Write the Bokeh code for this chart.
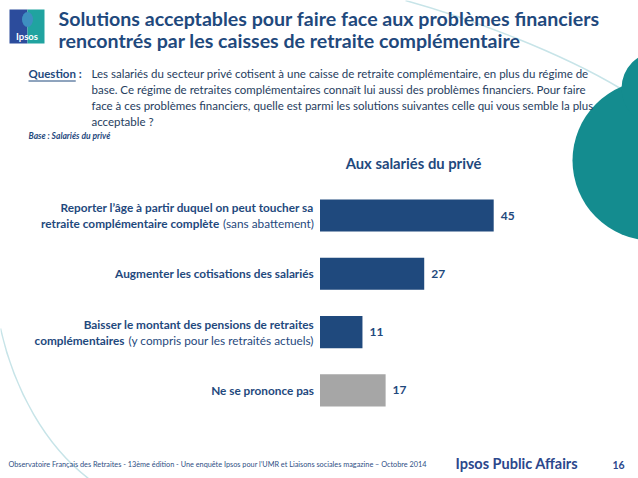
import glob, os, struct
from bokeh.plotting import figure
from bokeh.models import Range1d, ColumnDataSource
from bokeh.core.properties import value
from bokeh.embed import file_html
from bokeh.resources import INLINE

# ---------------- data ----------------
title_lines = ["Solutions acceptables pour faire face aux problèmes financiers",
               "rencontrés par les caisses de retraite complémentaire"]
question_lines = [
    "Les salariés du secteur privé cotisent à une caisse de retraite complémentaire, en plus du régime de",
    "base. Ce régime de retraites complémentaires connaît lui aussi des problèmes financiers. Pour faire",
    "face à ces problèmes financiers, quelle est parmi les solutions suivantes celle qui vous semble la plus",
    "acceptable ?",
]
base_text = "Base : Salariés du privé"
series_name = "Aux salariés du privé"
# each category: lines of (text, bold) segments
category_segments = [
    [[("Reporter l’âge à partir duquel on peut toucher sa", True)],
     [("retraite complémentaire complète", True), (" (sans abattement)", False)]],
    [[("Augmenter les cotisations des salariés", True)]],
    [[("Baisser le montant des pensions de retraites", True)],
     [("complémentaires", True), (" (y compris pour les retraités actuels)", False)]],
    [[("Ne se prononce pas", True)]],
]
categories = [" ".join("".join(t for t, _ in line) for line in c) for c in category_segments]
values = [45, 27, 11, 17]
bar_colors = ["#1F497D", "#1F497D", "#1F497D", "#A6A6A6"]
footer_text = ("Observatoire Français des Retraites - 13ème édition - Une enquête Ipsos pour  l’UMR "
               "et Liaisons sociales magazine – Octobre 2014")
brand_text = "Ipsos Public Affairs"
page_number = "16"

# ---------------- font metrics (for mixed bold / regular lines) ----------------
def load_width_fn(names):
    dirs = ["/usr/share/fonts", "/usr/local/share/fonts",
            os.path.expanduser("~/.fonts"), os.path.expanduser("~/.local/share/fonts")]
    files = []
    for d in dirs:
        for n in names:
            files += glob.glob(os.path.join(d, "**", n), recursive=True)
    if not files:
        return None
    try:
        data = open(files[0], "rb").read()
        nt = struct.unpack(">H", data[4:6])[0]
        tables = {}
        for i in range(nt):
            tag, _, off, ln = struct.unpack(">4sIII", data[12 + 16 * i:28 + 16 * i])
            tables[tag.decode("latin1")] = off
        upm = struct.unpack(">H", data[tables["head"] + 18:tables["head"] + 20])[0]
        nhm = struct.unpack(">H", data[tables["hhea"] + 34:tables["hhea"] + 36])[0]
        hm = tables["hmtx"]
        adv = [struct.unpack(">H", data[hm + 4 * i:hm + 4 * i + 2])[0] for i in range(nhm)]
        cm = tables["cmap"]
        n = struct.unpack(">H", data[cm + 2:cm + 4])[0]
        sub = None
        for i in range(n):
            pid, eid, off = struct.unpack(">HHI", data[cm + 4 + 8 * i:cm + 12 + 8 * i])
            fmt = struct.unpack(">H", data[cm + off:cm + off + 2])[0]
            if fmt == 4:
                sub = cm + off
                break
        if sub is None:
            return None
        sx2 = struct.unpack(">H", data[sub + 6:sub + 8])[0]
        seg = sx2 // 2
        ends = struct.unpack(">%dH" % seg, data[sub + 14:sub + 14 + sx2])
        starts = struct.unpack(">%dH" % seg, data[sub + 16 + sx2:sub + 16 + 2 * sx2])
        deltas = struct.unpack(">%dh" % seg, data[sub + 16 + 2 * sx2:sub + 16 + 3 * sx2])
        rpos = sub + 16 + 3 * sx2
        roffs = struct.unpack(">%dH" % seg, data[rpos:rpos + sx2])

        def glyph(c):
            for i in range(seg):
                if starts[i] <= c <= ends[i]:
                    if roffs[i] == 0:
                        return (c + deltas[i]) & 0xFFFF
                    a = rpos + 2 * i + roffs[i] + 2 * (c - starts[i])
                    g = struct.unpack(">H", data[a:a + 2])[0]
                    return (g + deltas[i]) & 0xFFFF if g else 0
            return 0

        def width(s, size):
            return sum(adv[min(glyph(ord(ch)), nhm - 1)] for ch in s) / upm * size
        return width
    except Exception:
        return None

FONT = "Lato"
w_reg = load_width_fn(["Lato-Regular.ttf", "Lato-Regular.otf"]) or (lambda s, z: len(s) * 0.47 * z)
w_bold = load_width_fn(["Lato-Bold.ttf", "Lato-Bold.otf"]) or (lambda s, z: len(s) * 0.50 * z)

# ---------------- figure ----------------
W, H = 638, 478
ZERO_PX, PX_PER_UNIT = 319.5, 3.86
BAR0_PX, BAR_STEP = 215.0, 58.3

p = figure(width=W, height=H, output_backend="svg", toolbar_location=None,
           x_range=Range1d(0, W), y_range=Range1d(H, 0),
           x_axis_location=None, y_axis_location=None, min_border=0)
p.extra_x_ranges = {"val": Range1d(-ZERO_PX / PX_PER_UNIT, (W - ZERO_PX) / PX_PER_UNIT)}
p.extra_y_ranges = {"cat": Range1d((H - BAR0_PX) / BAR_STEP, -BAR0_PX / BAR_STEP)}
p.grid.visible = False
p.outline_line_color = None
p.background_fill_color = "white"
p.border_fill_color = "white"

TEAL = "#148C8F"
LIGHT = "#C7E4E8"
NAVY = "#1F497D"

# decorative background
p.bezier(x0=[405], y0=[0], x1=[620], y1=[88], cx0=[470], cy0=[18], cx1=[560], cy1=[52],
         line_color=LIGHT, line_width=1.5)
p.bezier(x0=[0], y0=[328], x1=[88], y1=[478], cx0=[14], cy0=[390], cx1=[45], cy1=[445],
         line_color=LIGHT, line_width=1.5)
p.ellipse(x=[652, 658], y=[160, 88], width=[160, 74], height=[160, 74],
          fill_color=TEAL, line_color=None)

# logo
p.quad(left=[9], right=[27], top=[9], bottom=[43], fill_color="#2C4C9C", line_color=None)
p.quad(left=[27], right=[44], top=[9], bottom=[43], fill_color="#20A3A0", line_color=None)
p.ellipse(x=[27], y=[19], width=[11], height=[15], fill_color="#3E8FC0", line_color=None)
p.text(x=[26.5], y=[36], text=["Ipsos"], text_color="white", text_font=value(FONT),
       text_font_style="bold", text_font_size="9.5px", text_align="center", text_baseline="middle")

# title
p.text(x=[58, 58], y=[18, 40], text=title_lines, text_color=NAVY, text_font=value(FONT),
       text_font_style="bold", text_font_size="19.6px", text_baseline="middle")

# question
QSIZE = 11.5
p.text(x=[28], y=[73], text=["Question :"], text_color=NAVY, text_font=value(FONT),
       text_font_style="bold", text_font_size=f"{QSIZE}px", text_baseline="middle")
uw = w_bold("Question", QSIZE)
p.segment(x0=[28], y0=[80.5], x1=[28 + uw], y1=[80.5], line_color=NAVY, line_width=1)
p.text(x=[91] * len(question_lines), y=[73 + 16 * i for i in range(len(question_lines))],
       text=question_lines, text_color="#263D5E", text_font=value(FONT),
       text_font_size=f"{QSIZE}px", text_baseline="middle")
p.text(x=[28], y=[135], text=[base_text], text_color=NAVY, text_font=value(FONT),
       text_font_style="bold italic", text_font_size="8.5px", text_baseline="middle")

# series header
p.text(x=[413], y=[162], text=[series_name], text_color=NAVY, text_font=value(FONT),
       text_font_style="bold", text_font_size="14.8px", text_align="center", text_baseline="middle")

# bars
idx = list(range(len(values)))
src = ColumnDataSource(dict(y=idx, v=values, c=bar_colors, t=[str(v) for v in values]))
p.hbar(y="y", left=0, right="v", height=0.55, fill_color="c", line_color=None, source=src,
       x_range_name="val", y_range_name="cat")
p.text(x="v", y="y", text="t", source=src, x_offset=7, text_color=NAVY, text_font=value(FONT),
       text_font_style="bold", text_font_size="12px", text_baseline="middle",
       x_range_name="val", y_range_name="cat")

# category labels (right aligned, mixed bold/regular)
LSIZE = 11.8
LINE_H = 16
for i, lines in enumerate(category_segments):
    n = len(lines)
    for k, line in enumerate(lines):
        yoff = (k - (n - 1) / 2) * LINE_H
        xoff = -6
        for txt, bold in reversed(line):
            wf = w_bold if bold else w_reg
            core = txt.strip()
            p.text(x=[0], y=[i], text=[core], x_offset=xoff, y_offset=yoff,
                   text_color=NAVY, text_font=value(FONT),
                   text_font_style="bold" if bold else "normal", text_font_size=f"{LSIZE}px",
                   text_align="right", text_baseline="middle",
                   x_range_name="val", y_range_name="cat")
            xoff -= wf(txt, LSIZE)

# footer
p.text(x=[8], y=[464], text=[footer_text], text_color="#2F4F85", text_font=value(FONT),
       text_font_size="7.3px", text_baseline="middle")
p.text(x=[455], y=[463], text=[brand_text], text_color="#2B478C", text_font=value(FONT),
       text_font_style="bold", text_font_size="14.5px", text_baseline="middle")
p.text(x=[612], y=[464], text=[page_number], text_color="#2B478C", text_font=value(FONT),
       text_font_style="bold", text_font_size="10.5px", text_baseline="middle")

open("out.html", "w").write(file_html(p, INLINE))
